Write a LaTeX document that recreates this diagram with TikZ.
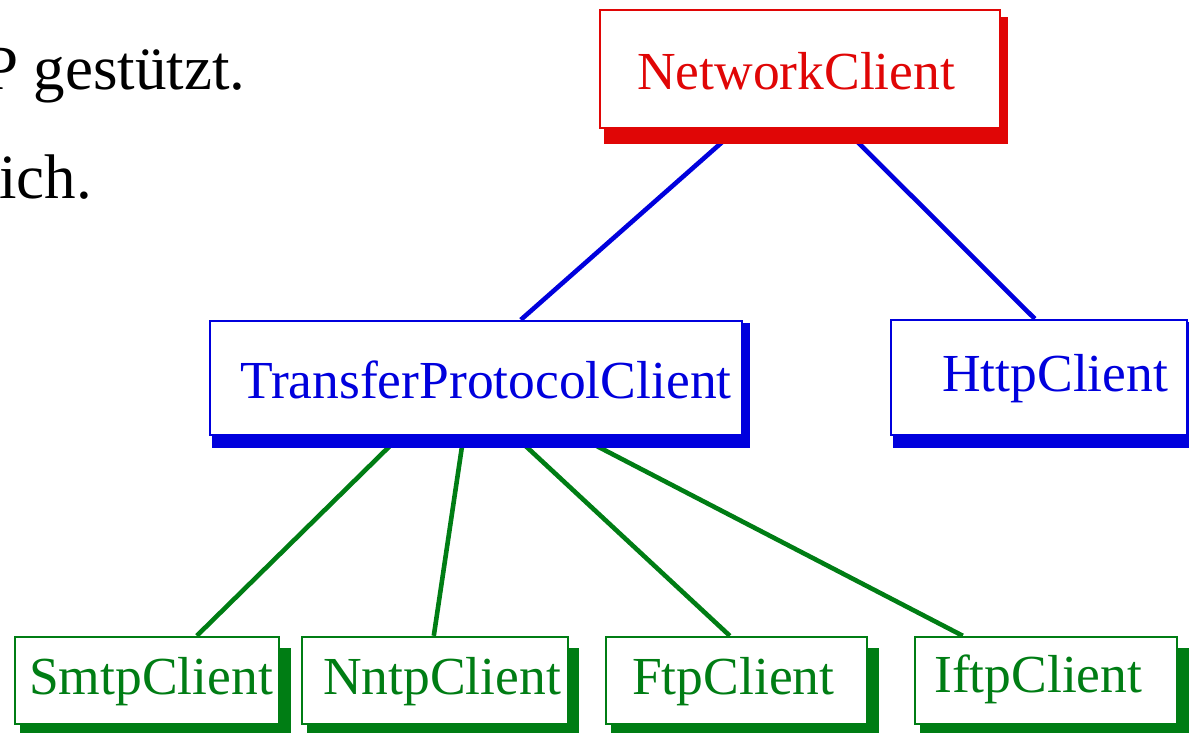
\documentclass[tikz,border=0pt]{standalone}
\usepackage{fontspec}
\setmainfont{Liberation Serif}
\usetikzlibrary{calc}
\definecolor{ncred}{RGB}{224,6,6}
\definecolor{ncblue}{RGB}{0,0,221}
\definecolor{ncgreen}{RGB}{0,125,20}
\pgfdeclarelayer{bg}
\pgfdeclarelayer{shade}
\pgfsetlayers{bg,shade,main}
\begin{document}
\begin{tikzpicture}[x=1pt,y=-1pt,
  box/.style={draw=#1, fill=white, line width=2.4pt, inner sep=0pt},
  boxtext/.style={text=#1, inner sep=0pt, anchor=base west, font=\fontsize{53.5}{60}\selectfont},
  bigtext/.style={text=black, inner sep=0pt, anchor=base west, font=\fontsize{63}{70}\selectfont},
  conn/.style={draw=#1, line width=4.6pt},
]
\useasboundingbox (0,0) rectangle (1189,733);

% left text (cut off at the picture's edge, as in the reference)
\node[bigtext] (l1) at (-17,90) {P gestützt.};
\node[bigtext] (l2) at (-1,198) {ich.};

% boxes
\node[box=ncred, minimum width=400pt, minimum height=118pt] (nc) at (800,69) {};
\node[box=ncblue, minimum width=532pt, minimum height=114pt] (tpc) at (476,378) {};
\node[box=ncblue, minimum width=296pt, minimum height=115pt] (http) at (1039,377.5) {};
\node[box=ncgreen, minimum width=264pt, minimum height=87pt] (smtp) at (147,680.5) {};
\node[box=ncgreen, minimum width=266pt, minimum height=87pt] (nntp) at (435,680.5) {};
\node[box=ncgreen, minimum width=261pt, minimum height=87pt] (ftp) at (736.5,680.5) {};
\node[box=ncgreen, minimum width=262pt, minimum height=87pt] (iftp) at (1046,680.5) {};

% texts
\node[boxtext=ncred] (nct) at (637,90) {NetworkClient};
\node[boxtext=ncblue] (tpct) at (240,398) {TransferProtocolClient};
\node[boxtext=ncblue] (httpt) at (942,391) {HttpClient};
\node[boxtext=ncgreen] (smtpt) at (29,694) {SmtpClient};
\node[boxtext=ncgreen] (nntpt) at (323,694) {NntpClient};
\node[boxtext=ncgreen] (ftpt) at (632,694) {FtpClient};
\node[boxtext=ncgreen] (iftpt) at (934,692) {IftpClient};

% shadows
\begin{pgfonlayer}{shade}
  \fill[ncred] ($(nc.north west)+(5,8)$) rectangle ($(nc.south east)+(7,15)$);
  \fill[ncblue] ($(tpc.north west)+(3,3)$) rectangle ($(tpc.south east)+(7,12)$);
  \fill[ncblue] ($(http.north west)+(3,3)$) rectangle ($(http.south east)+(8,12)$);
  \fill[ncgreen] ($(smtp.north west)+(6,12)$) rectangle ($(smtp.south east)+(11,9)$);
  \fill[ncgreen] ($(nntp.north west)+(6,12)$) rectangle ($(nntp.south east)+(10,9)$);
  \fill[ncgreen] ($(ftp.north west)+(6,12)$) rectangle ($(ftp.south east)+(11,9)$);
  \fill[ncgreen] ($(iftp.north west)+(6,12)$) rectangle ($(iftp.south east)+(11,9)$);
\end{pgfonlayer}

% connectors
\begin{pgfonlayer}{bg}
  \draw[conn=ncblue] ($(nc.south west)+(138,0)$) -- ($(tpc.north west)+(312,0)$);
  \draw[conn=ncblue] ($(nc.south west)+(246,0)$) -- ($(http.north west)+(145,0)$);
  \draw[conn=ncgreen] ($(tpc.south west)+(191,0)$) -- ($(smtp.north west)+(183,0)$);
  \draw[conn=ncgreen] ($(tpc.south west)+(254.7,0)$) -- ($(nntp.north west)+(133,0)$);
  \draw[conn=ncgreen] ($(tpc.south west)+(306.3,0)$) -- ($(ftp.north west)+(125,0)$);
  \draw[conn=ncgreen] ($(tpc.south west)+(369,0)$) -- ($(iftp.north west)+(49,0)$);
\end{pgfonlayer}
\end{tikzpicture}
\end{document}
